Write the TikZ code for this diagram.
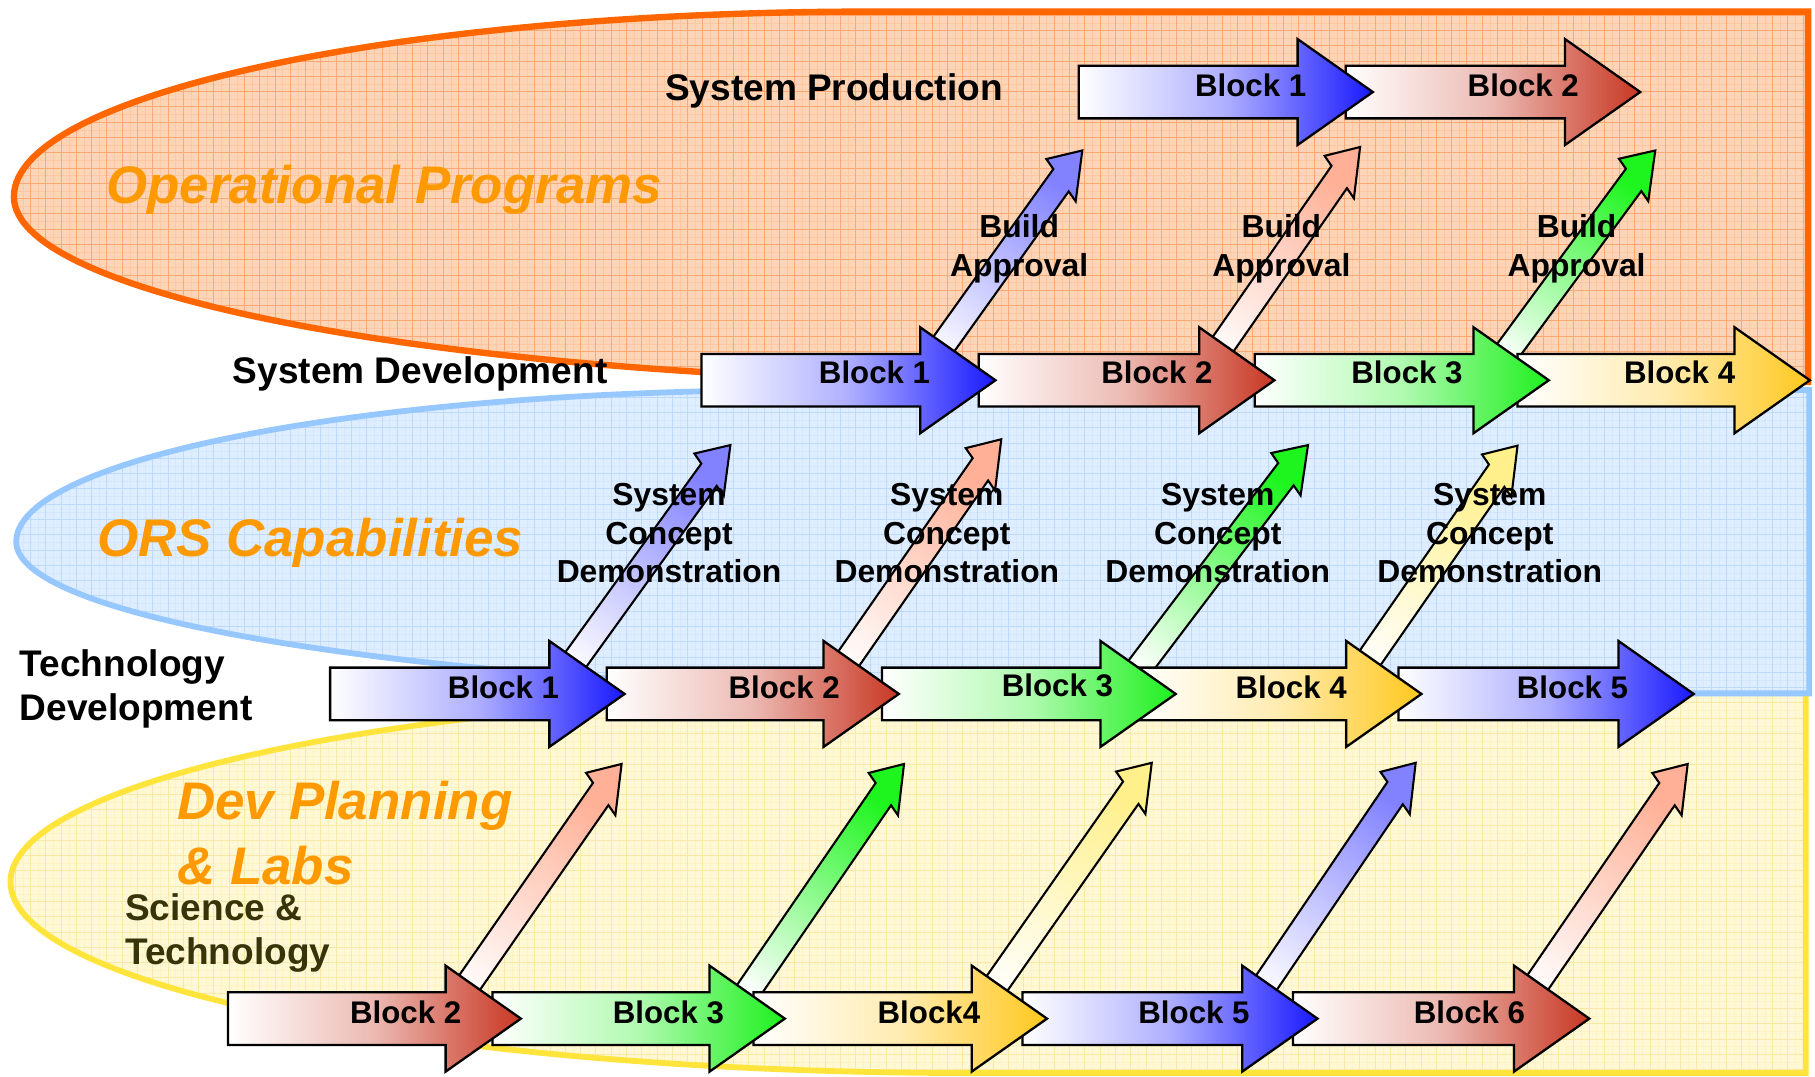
\documentclass[tikz,border=0pt]{standalone}
\usepackage{fontspec}
\setmainfont{Liberation Sans}
\usetikzlibrary{calc}

\definecolor{cBlue}{RGB}{25,25,255}
\definecolor{cRed}{RGB}{200,55,35}
\definecolor{cGreen}{RGB}{30,240,30}
\definecolor{cGold}{RGB}{255,200,30}
\definecolor{dBlue}{RGB}{130,130,255}
\definecolor{dSalmon}{RGB}{255,176,150}
\definecolor{dGreen}{RGB}{30,245,30}
\definecolor{dYellow}{RGB}{255,240,140}
\definecolor{opFill}{RGB}{253,212,182}
\definecolor{opLine}{RGB}{255,102,0}
\definecolor{opGrid}{RGB}{250,120,40}
\definecolor{orsFill}{RGB}{222,237,255}
\definecolor{orsLine}{RGB}{150,200,255}
\definecolor{orsGrid}{RGB}{140,190,245}
\definecolor{devFill}{RGB}{255,248,212}
\definecolor{devLine}{RGB}{255,228,60}
\definecolor{devGrid}{RGB}{245,215,110}
\definecolor{titleOrange}{RGB}{255,153,0}
\definecolor{oliveText}{RGB}{55,52,10}

\tikzset{
  blklbl/.style={anchor=base, inner sep=0pt, font=\fontsize{27}{33}\selectfont\bfseries},
  smlbl/.style={anchor=base, inner sep=0pt, font=\fontsize{27.5}{33}\selectfont\bfseries},
  rowlbl/.style={inner sep=0pt, font=\fontsize{32}{38}\selectfont\bfseries},
  bigtitle/.style={inner sep=0pt, text=titleOrange, font=\fontsize{45.7}{56}\selectfont\bfseries\itshape},
  blockshape/.style={draw=black, line width=2pt, line join=miter},
  diagshape/.style={draw=black, line width=1.8pt, line join=miter},
}

% block arrow: left x, tip x, centre y, colour
\newcommand{\blockarrow}[4]{%
  \shade[blockshape, left color=white, right color=#4, middle color=#4!35!white]
    (#1,{#3-22.75}) -- ({#2-65},{#3-22.75}) -- ({#2-65},{#3-45.75}) -- (#2,#3)
    -- ({#2-65},{#3+45.75}) -- ({#2-65},{#3+22.75}) -- (#1,{#3+22.75}) -- cycle;
}
% diagonal arrow: start coordinate, tip coordinate, colour
\newcommand{\diagarrow}[3]{%
  \shade[diagshape, bottom color=white, top color=#3, shading angle=-36]
    ($(#1)+(-6.66,-9.63)$) -- ($(#2)!31.6pt!(#1)+(-6.66,-9.63)$)
    -- ($(#2)!31.6pt!(#1)+(-12.66,-18.31)$) -- (#2)
    -- ($(#2)!31.6pt!(#1)+(12.66,18.31)$) -- ($(#2)!31.6pt!(#1)+(6.66,9.63)$)
    -- ($(#1)+(6.66,9.63)$) -- cycle;
}
\newcommand{\regiongrid}[2]{%
  \draw[#1, line width=0.4pt, opacity=0.12]
    \foreach \g in {6.6,19.8,...,1570} {(\g,0) -- (\g,930)}
    \foreach \g in {6.6,19.8,...,930} {(0,\g) -- (1568,\g)};
  \draw[#1, line width=0.8pt, opacity=#2]
    \foreach \g in {0,13.2,...,1570} {(\g,0) -- (\g,930)}
    \foreach \g in {0,13.2,...,930} {(0,\g) -- (1568,\g)};
}

\def\orangepath{(1562,10) -- (752,10) arc[start angle=270, end angle=180, x radius=740, y radius=160]
  arc[start angle=180, end angle=90, x radius=880, y radius=160] -- (1562,330) -- cycle}
\def\bluepath{(1563,337) -- (694,337) arc[start angle=270, end angle=180, x radius=680, y radius=131]
  arc[start angle=180, end angle=90, x radius=900, y radius=131] -- (1563,599) -- cycle}
\def\yellowpath{(1560,597) -- (829,597) arc[start angle=270, end angle=180, x radius=820, y radius=165]
  arc[start angle=180, end angle=90, x radius=830, y radius=165] -- (1560,927) -- cycle}

\begin{document}
\begin{tikzpicture}[x=1pt, y=-1pt]
\useasboundingbox (0,0) rectangle (1568,930);
\fill[white] (0,0) rectangle (1568,930);

% ---------- regions ----------
\begin{scope}
  \clip \orangepath;
  \fill[opFill] (0,0) rectangle (1568,930);
  \regiongrid{opGrid}{0.45}
\end{scope}
\draw[opLine, line width=5.5pt] \orangepath;

\begin{scope}
  \clip \yellowpath;
  \fill[devFill] (0,0) rectangle (1568,930);
  \regiongrid{devGrid}{0.45}
\end{scope}
\draw[devLine, line width=5pt] \yellowpath;

\begin{scope}
  \clip \bluepath;
  \fill[orsFill] (0,0) rectangle (1568,930);
  \regiongrid{orsGrid}{0.4}
\end{scope}
\draw[orsLine, line width=5pt] \bluepath;

% ---------- diagonal arrow coordinates ----------
\coordinate (sd1s) at (793,328.5);  \coordinate (sd1t) at (935,130);
\coordinate (sd2s) at (1035,328.5); \coordinate (sd2t) at (1175,127);
\coordinate (sd3s) at (1284,328.5); \coordinate (sd3t) at (1430,130);
\coordinate (td1s) at (476,599.5);  \coordinate (td1t) at (631,384.5);
\coordinate (td2s) at (712,599.5);  \coordinate (td2t) at (865,379.5);
\coordinate (td3s) at (967,599.5);  \coordinate (td3t) at (1130,384.5);
\coordinate (td4s) at (1162,599.5); \coordinate (td4t) at (1311,385);
\coordinate (st1s) at (384,880);    \coordinate (st1t) at (537,660);
\coordinate (st2s) at (630,880);    \coordinate (st2t) at (781,660);
\coordinate (st3s) at (840,880);    \coordinate (st3t) at (995,659);
\coordinate (st4s) at (1073,880);   \coordinate (st4t) at (1223,659);
\coordinate (st5s) at (1307,880);   \coordinate (st5t) at (1458,660);

\diagarrow{sd1s}{sd1t}{dBlue}
\diagarrow{sd2s}{sd2t}{dSalmon}
\diagarrow{sd3s}{sd3t}{dGreen}
\diagarrow{td1s}{td1t}{dBlue}
\diagarrow{td2s}{td2t}{dSalmon}
\diagarrow{td3s}{td3t}{dGreen}
\diagarrow{td4s}{td4t}{dYellow}
\diagarrow{st1s}{st1t}{dSalmon}
\diagarrow{st2s}{st2t}{dGreen}
\diagarrow{st3s}{st3t}{dYellow}
\diagarrow{st4s}{st4t}{dBlue}
\diagarrow{st5s}{st5t}{dSalmon}

% ---------- block arrows (right to left) ----------
\blockarrow{1162.6}{1417}{79.5}{cRed}
\blockarrow{932}{1186}{79.5}{cBlue}

\blockarrow{1311}{1563.5}{328.5}{cGold}
\blockarrow{1084}{1338}{328.5}{cGreen}
\blockarrow{845.6}{1101}{328.5}{cRed}
\blockarrow{606}{860}{328.5}{cBlue}

\blockarrow{1208.2}{1463.2}{599.5}{cBlue}
\blockarrow{982}{1228}{599.5}{cGold}
\blockarrow{762}{1015.7}{599.5}{cGreen}
\blockarrow{524.2}{776.5}{599.5}{cRed}
\blockarrow{285.2}{539.6}{599.5}{cBlue}

\blockarrow{1117}{1373}{880}{cRed}
\blockarrow{883.3}{1138.2}{880}{cBlue}
\blockarrow{651}{904.5}{880}{cGold}
\blockarrow{425.5}{678}{880}{cGreen}
\blockarrow{197}{450}{880}{cRed}

% ---------- block labels ----------
\node[blklbl] (sp1) at (1080.5,83.5) {Block 1};
\node[blklbl] (sp2) at (1316,83.5) {Block 2};
\node[blklbl] (sd1) at (755.5,331.5) {Block 1};
\node[blklbl] (sd2) at (999.5,331.5) {Block 2};
\node[blklbl] (sd3) at (1215.5,331.5) {Block 3};
\node[blklbl] (sd4) at (1451,331.5) {Block 4};
\node[blklbl] (td1) at (435,603) {Block 1};
\node[blklbl] (td2) at (677.5,603) {Block 2};
\node[blklbl] (td3) at (913.5,602) {Block 3};
\node[blklbl] (td4) at (1115.5,603) {Block 4};
\node[blklbl] (td5) at (1358.5,603) {Block 5};
\node[blklbl] (st2) at (350.5,884) {Block 2};
\node[blklbl] (st3) at (577.5,884) {Block 3};
\node[blklbl] (st4) at (802.5,884) {Block4};
\node[blklbl] (st5) at (1031.5,884) {Block 5};
\node[blklbl] (st6) at (1269.5,884) {Block 6};

% ---------- build approval / system concept labels ----------
\foreach \bx [count=\i] in {880.5,1107,1362} {
  \node[smlbl] (ba\i a) at (\bx,205) {Build};
  \node[smlbl] (ba\i b) at (\bx,239) {Approval};
}
\foreach \cx [count=\i] in {578,818,1052,1287} {
  \node[smlbl] (sc\i a) at (\cx,436.3) {System};
  \node[smlbl] (sc\i b) at (\cx,470.3) {Concept};
  \node[smlbl] (sc\i c) at (\cx,503.5) {Demonstration};
}

% ---------- row labels ----------
\node[rowlbl, anchor=base] (sysprod) at (720.5,86.4) {System Production};
\node[rowlbl, anchor=base] (sysdev) at (363,331) {System Development};
\node[rowlbl, anchor=base west] (tech1) at (17,584) {Technology};
\node[rowlbl, anchor=base west] (tech2) at (17,622.6) {Development};
\node[rowlbl, anchor=base west, text=oliveText] (sci1) at (108,795) {Science \&};
\node[rowlbl, anchor=base west, text=oliveText] (sci2) at (108,833) {Technology};

% ---------- region titles ----------
\node[bigtitle, anchor=base] (optitle) at (332,176) {Operational Programs};
\node[bigtitle, anchor=base] (orstitle) at (268,481) {ORS Capabilities};
\node[bigtitle, anchor=base west] (devtitle1) at (153,708) {Dev Planning};
\node[bigtitle, anchor=base west] (devtitle2) at (153,764) {\& Labs};
\end{tikzpicture}
\end{document}
